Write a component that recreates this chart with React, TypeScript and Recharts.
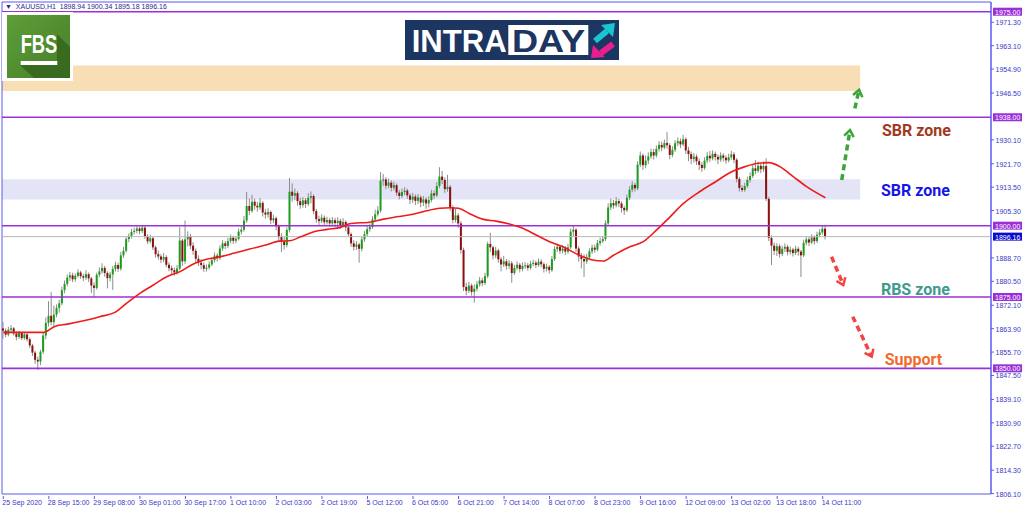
import React from 'react';
import {
  ComposedChart, Bar, Line, XAxis, YAxis, ReferenceLine, ReferenceArea, ReferenceDot,
} from 'recharts';

// XAUUSD H1, 25 Sep 2020 -> 14 Oct 2020 (one value per hourly bar)
const firstOpen = 1864.0;
const closes = [
  1863.2, 1861.8, 1863.5, 1864.0, 1862.2, 1861.0, 1862.4, 1860.6, 1861.9, 1860.2,
  1858.0, 1855.5, 1853.0, 1852.4, 1855.8, 1861.5, 1865.9, 1868.4, 1866.2, 1868.8,
  1871.2, 1872.8, 1877.4, 1879.6, 1881.8, 1882.6, 1881.2, 1882.4, 1883.6, 1882.3,
  1881.8, 1883.0, 1881.5, 1879.0, 1878.2, 1882.8, 1884.0, 1885.2, 1883.4, 1881.6,
  1882.9, 1884.8, 1886.2, 1884.9, 1889.6, 1891.2, 1895.3, 1896.4, 1897.8, 1898.2,
  1899.0, 1898.1, 1899.3, 1896.2, 1894.5, 1895.6, 1892.4, 1890.0, 1889.2, 1888.1,
  1889.0, 1886.3, 1885.1, 1884.4, 1883.6, 1885.0, 1894.8, 1887.5, 1895.2, 1896.3,
  1893.0, 1891.2, 1888.4, 1887.0, 1886.2, 1884.9, 1885.3, 1886.4, 1887.9, 1889.5,
  1888.6, 1892.0, 1893.8, 1892.9, 1894.6, 1895.8, 1894.7, 1895.4, 1897.9, 1898.6,
  1901.8, 1906.9, 1905.2, 1908.4, 1907.0, 1906.4, 1908.0, 1904.6, 1903.9, 1904.8,
  1901.9, 1902.6, 1899.8, 1896.0, 1894.4, 1893.2, 1898.5, 1911.9, 1910.5, 1911.4,
  1908.6, 1907.2, 1908.9, 1907.6, 1909.8, 1910.4, 1905.1, 1902.3, 1901.6, 1902.8,
  1901.2, 1902.0, 1900.8, 1901.9, 1900.9, 1901.7, 1900.2, 1901.3, 1899.4, 1897.0,
  1893.8, 1892.6, 1893.4, 1891.9, 1895.2, 1897.0, 1898.8, 1899.5, 1902.2, 1904.0,
  1905.3, 1915.8, 1916.2, 1914.0, 1915.1, 1913.3, 1914.2, 1911.6, 1910.4, 1911.8,
  1912.3, 1910.6, 1909.1, 1910.2, 1908.7, 1909.9, 1908.1, 1909.2, 1907.8, 1909.0,
  1911.3, 1910.6, 1913.9, 1917.2, 1916.0, 1912.8, 1913.6, 1906.4, 1902.0, 1903.6,
  1900.8, 1891.5, 1878.5, 1877.2, 1879.0, 1876.8, 1877.9, 1879.4, 1880.8, 1879.9,
  1882.3, 1893.6, 1892.4, 1889.6, 1891.3, 1888.2, 1886.4, 1887.5, 1885.9, 1886.8,
  1883.4, 1885.2, 1886.3, 1884.8, 1885.9, 1886.1, 1885.2, 1886.6, 1887.0, 1886.2,
  1887.4, 1886.5, 1884.9, 1885.6, 1884.4, 1888.3, 1891.8, 1892.6, 1891.2, 1892.0,
  1890.9, 1892.4, 1897.9, 1898.6, 1892.0, 1889.2, 1888.3, 1887.5, 1888.9, 1891.0,
  1892.3, 1891.6, 1893.9, 1894.6, 1895.3, 1900.8, 1906.4, 1907.9, 1907.1, 1908.6,
  1907.8, 1906.2, 1905.4, 1909.8, 1912.6, 1914.3, 1913.1, 1921.4, 1924.6, 1921.2,
  1922.8, 1924.3, 1925.8, 1924.6, 1926.9, 1928.3, 1927.4, 1929.0, 1928.2, 1924.8,
  1926.6, 1928.9, 1929.6, 1928.5, 1930.3, 1926.4, 1925.1, 1923.4, 1924.2, 1922.6,
  1921.3, 1920.2, 1922.8, 1924.5, 1923.6, 1925.2, 1924.1, 1923.2, 1924.6, 1923.8,
  1922.9, 1924.0, 1925.0, 1923.1, 1916.4, 1913.2, 1912.5, 1913.9, 1916.0, 1917.4,
  1920.1, 1919.2, 1921.0, 1919.8, 1920.9, 1909.4, 1895.7, 1893.0, 1891.2, 1892.8,
  1890.1, 1891.9, 1892.6, 1890.8, 1891.6, 1890.4, 1891.9, 1890.9, 1889.6, 1894.0,
  1895.2, 1894.1, 1895.9, 1894.6, 1896.8, 1897.6, 1898.94, 1896.16,
];
const highs = [
  1866.3, 1864.0, 1864.6, 1865.2, 1864.5, 1862.9, 1863.1, 1862.8, 1862.7, 1862.3,
  1860.8, 1858.6, 1856.2, 1854.1, 1856.5, 1862.4, 1867.8, 1873.5, 1876.7, 1872.0,
  1872.4, 1874.0, 1878.6, 1880.8, 1882.9, 1883.8, 1883.5, 1883.3, 1884.7, 1884.2,
  1883.1, 1884.4, 1883.6, 1882.0, 1880.1, 1883.5, 1885.4, 1886.8, 1885.9, 1884.0,
  1883.8, 1885.9, 1887.4, 1887.0, 1890.8, 1892.5, 1896.0, 1897.3, 1898.9, 1899.3,
  1899.8, 1899.6, 1900.1, 1899.8, 1897.0, 1896.8, 1896.1, 1893.0, 1891.3, 1890.0,
  1890.4, 1889.6, 1887.2, 1886.0, 1885.3, 1886.2, 1899.5, 1895.4, 1901.8, 1898.0,
  1897.1, 1894.2, 1892.0, 1889.6, 1888.3, 1887.1, 1886.4, 1887.5, 1889.0, 1890.6,
  1890.3, 1893.1, 1894.9, 1894.6, 1895.7, 1896.9, 1896.5, 1896.3, 1899.0, 1900.2,
  1903.4, 1911.8, 1909.6, 1910.8, 1909.5, 1908.3, 1909.7, 1908.6, 1905.8, 1906.1,
  1905.3, 1903.8, 1903.2, 1900.4, 1897.3, 1896.0, 1899.4, 1916.7, 1914.8, 1913.0,
  1912.1, 1909.8, 1910.0, 1909.7, 1911.4, 1912.0, 1911.0, 1905.9, 1903.5, 1904.0,
  1903.6, 1903.1, 1902.7, 1903.0, 1902.8, 1902.9, 1902.4, 1902.6, 1901.9, 1900.1,
  1897.6, 1894.9, 1894.6, 1894.0, 1896.1, 1898.1, 1899.9, 1900.8, 1903.3, 1905.6,
  1906.9, 1918.8, 1918.1, 1917.0, 1916.5, 1915.9, 1915.4, 1914.8, 1912.5, 1913.0,
  1913.5, 1913.0, 1911.4, 1911.5, 1911.0, 1911.1, 1910.6, 1910.4, 1910.0, 1910.3,
  1912.6, 1912.4, 1915.3, 1920.5, 1919.2, 1916.9, 1917.8, 1914.2, 1907.1, 1905.9,
  1904.4, 1901.6, 1892.3, 1880.0, 1880.3, 1879.7, 1879.4, 1880.6, 1882.0, 1881.7,
  1883.5, 1894.4, 1897.5, 1893.0, 1892.6, 1891.9, 1889.0, 1889.4, 1888.3, 1888.0,
  1887.6, 1886.3, 1887.5, 1887.0, 1887.1, 1887.2, 1886.9, 1887.7, 1888.1, 1887.8,
  1888.5, 1888.2, 1887.1, 1886.7, 1886.2, 1889.4, 1892.9, 1893.7, 1893.3, 1893.2,
  1892.8, 1893.6, 1899.0, 1900.2, 1899.1, 1892.8, 1890.4, 1889.9, 1890.1, 1892.1,
  1893.4, 1893.3, 1895.0, 1895.8, 1896.4, 1901.9, 1907.8, 1909.5, 1909.0, 1910.1,
  1909.4, 1908.5, 1907.0, 1910.9, 1913.8, 1915.6, 1915.0, 1922.6, 1926.0, 1925.3,
  1924.6, 1925.7, 1927.0, 1926.9, 1928.1, 1929.6, 1929.5, 1930.2, 1932.8, 1928.9,
  1927.8, 1930.0, 1930.9, 1930.6, 1931.8, 1930.9, 1927.6, 1926.0, 1925.5, 1925.0,
  1923.6, 1922.2, 1924.0, 1925.8, 1926.2, 1926.4, 1926.0, 1925.0, 1925.7, 1925.4,
  1924.6, 1925.2, 1926.2, 1925.8, 1923.7, 1917.1, 1914.2, 1915.0, 1917.2, 1918.7,
  1921.4, 1923.0, 1922.4, 1921.9, 1922.5, 1923.6, 1910.1, 1896.6, 1894.1, 1893.9,
  1893.5, 1893.0, 1893.8, 1893.3, 1892.7, 1892.2, 1893.0, 1892.6, 1891.5, 1895.1,
  1896.3, 1896.0, 1897.0, 1896.6, 1897.9, 1898.8, 1900.1, 1900.34,
];
const lows = [
  1860.4, 1860.9, 1861.2, 1862.6, 1861.5, 1859.8, 1860.3, 1859.9, 1860.0, 1859.4,
  1857.1, 1854.3, 1851.6, 1849.4, 1851.1, 1855.0, 1860.2, 1864.7, 1865.1, 1864.6,
  1867.9, 1869.5, 1872.1, 1876.3, 1878.7, 1880.6, 1880.2, 1880.4, 1881.8, 1881.4,
  1880.6, 1881.0, 1880.3, 1876.4, 1875.0, 1877.6, 1881.9, 1883.2, 1882.1, 1878.0,
  1880.5, 1877.5, 1883.9, 1883.8, 1884.2, 1888.7, 1890.6, 1894.2, 1895.5, 1896.9,
  1897.3, 1897.0, 1897.4, 1895.4, 1893.6, 1893.8, 1891.5, 1888.8, 1888.1, 1886.9,
  1887.2, 1885.4, 1884.0, 1883.1, 1882.5, 1882.9, 1884.3, 1885.9, 1886.6, 1892.7,
  1891.8, 1889.8, 1887.1, 1885.9, 1884.7, 1883.8, 1883.9, 1884.6, 1885.8, 1887.1,
  1887.4, 1888.0, 1891.2, 1891.8, 1892.1, 1893.8, 1893.6, 1893.9, 1894.8, 1896.9,
  1897.9, 1901.0, 1903.8, 1904.5, 1905.6, 1904.9, 1905.5, 1903.2, 1902.5, 1902.8,
  1900.6, 1900.9, 1898.4, 1894.7, 1890.8, 1891.6, 1892.4, 1897.6, 1908.4, 1908.9,
  1907.0, 1905.9, 1906.3, 1906.2, 1906.9, 1907.8, 1904.0, 1901.0, 1900.2, 1900.9,
  1899.9, 1900.4, 1899.5, 1899.8, 1899.6, 1899.3, 1898.9, 1899.4, 1898.0, 1896.2,
  1892.6, 1891.3, 1891.5, 1887.0, 1891.0, 1894.3, 1896.2, 1897.9, 1898.9, 1901.4,
  1903.2, 1904.6, 1914.0, 1912.8, 1913.1, 1912.0, 1912.4, 1910.5, 1909.2, 1909.6,
  1910.7, 1909.4, 1907.6, 1908.0, 1907.2, 1907.6, 1906.5, 1906.9, 1905.9, 1906.4,
  1908.2, 1909.3, 1910.0, 1913.1, 1914.6, 1911.5, 1911.9, 1905.2, 1900.8, 1901.1,
  1899.2, 1890.2, 1877.1, 1875.6, 1876.4, 1875.5, 1873.0, 1877.0, 1878.6, 1878.8,
  1879.2, 1881.6, 1890.8, 1888.2, 1888.6, 1887.0, 1884.0, 1885.5, 1884.6, 1884.9,
  1880.0, 1882.8, 1884.4, 1883.6, 1884.0, 1884.9, 1884.2, 1884.6, 1885.8, 1885.1,
  1885.6, 1885.4, 1883.6, 1883.9, 1883.2, 1883.8, 1887.6, 1890.8, 1890.1, 1890.3,
  1889.7, 1890.2, 1891.8, 1896.4, 1890.8, 1887.4, 1885.0, 1882.0, 1886.6, 1888.2,
  1890.1, 1890.5, 1891.0, 1893.0, 1893.9, 1894.6, 1900.1, 1905.5, 1905.9, 1906.4,
  1906.5, 1904.6, 1903.8, 1904.8, 1909.0, 1911.7, 1911.9, 1912.4, 1920.5, 1919.6,
  1920.1, 1921.6, 1923.4, 1923.2, 1923.9, 1926.0, 1926.1, 1926.8, 1927.0, 1923.3,
  1924.0, 1925.8, 1927.9, 1927.2, 1927.9, 1925.2, 1922.6, 1921.5, 1922.1, 1921.3,
  1919.5, 1918.9, 1919.6, 1921.9, 1922.3, 1922.9, 1922.8, 1921.6, 1922.4, 1922.5,
  1921.7, 1922.2, 1923.1, 1921.9, 1915.2, 1912.0, 1911.8, 1911.9, 1913.2, 1915.1,
  1916.7, 1918.0, 1918.5, 1918.4, 1918.9, 1908.6, 1894.6, 1886.2, 1889.7, 1889.4,
  1888.8, 1889.3, 1890.8, 1889.6, 1889.9, 1889.2, 1889.7, 1889.5, 1882.0, 1889.0,
  1893.1, 1892.9, 1893.5, 1893.4, 1893.9, 1895.9, 1896.8, 1895.18,
];

// moving average (bar index -> value)
const maIndex = [
  0, 15, 19, 24, 30, 36, 42, 46, 51, 56, 61, 66, 71, 75, 80, 86, 92, 98, 103, 107,
  111, 116, 121, 126, 129, 138, 142, 147, 153, 158, 163, 167, 170, 174, 179, 184, 189, 194, 199, 204,
  209, 215, 220, 224, 228, 234, 239, 244, 249, 254, 260, 266, 272, 277, 282, 286, 290, 295, 300, 307,
];
const maValue = [
  1862.6, 1862.6, 1864.6, 1865.5, 1866.7, 1868.1, 1869.8, 1872.8, 1876.3, 1879.2, 1882.1, 1883.9, 1886.6, 1888.0, 1888.9, 1890.3, 1891.8, 1893.2, 1894.6, 1894.7,
  1896.1, 1897.9, 1898.7, 1899.4, 1900.6, 1901.4, 1902.3, 1903.1, 1904.0, 1905.2, 1906.1, 1906.3, 1906.1, 1904.3, 1902.3, 1901.6, 1900.6, 1899.1, 1896.7, 1894.4,
  1892.6, 1889.7, 1888.0, 1887.6, 1889.7, 1892.6, 1894.4, 1898.5, 1903.1, 1907.8, 1911.9, 1915.4, 1918.9, 1920.7, 1921.9, 1922.1, 1920.7, 1917.2, 1913.7, 1909.8,
];

const timeTicks = [0, 17, 34, 51, 68, 85, 102, 119, 136, 153, 170, 187, 204, 221, 238, 255, 272, 289, 306];
const timeLabels = [
  '25 Sep 2020', '28 Sep 15:00', '29 Sep 08:00', '30 Sep 01:00', '30 Sep 17:00', '1 Oct 10:00',
  '2 Oct 03:00', '2 Oct 19:00', '5 Oct 12:00', '6 Oct 05:00', '6 Oct 21:00', '7 Oct 14:00',
  '8 Oct 07:00', '8 Oct 23:00', '9 Oct 16:00', '12 Oct 09:00', '13 Oct 02:00', '13 Oct 18:00', '14 Oct 11:00',
];

const priceTicks = [
  1971.3, 1963.1, 1954.9, 1946.5, 1930.1, 1921.7, 1913.5, 1905.3, 1888.7, 1880.5,
  1872.1, 1863.9, 1855.7, 1847.5, 1839.1, 1830.9, 1822.7, 1814.3, 1806.1,
];
const levels = [1975, 1938, 1900, 1875, 1850];
const bidPrice = 1896.16;

// shaded zones (price bands) and where they stop
const zoneLow = [1947.2, 1909.2];
const zoneHigh = [1956.1, 1916.3];
const zoneEnd = 320;

// dashed arrows: from (bar, price) to (bar, price)
const arrowFromX = [313.1, 318.0, 309.3, 317.2];
const arrowFromY = [1916.0, 1941.1, 1889.1, 1868.1];
const arrowToX = [316.2, 319.6, 313.7, 324.3];
const arrowToY = [1933.5, 1947.6, 1879.2, 1854.1];
const arrowUp = [true, true, false, false];

const noteText = ['SBR zone', 'SBR zone', 'RBS zone', 'Support'];
const noteX = [341.0, 340.6, 340.6, 339.9];
const noteY = [1933.2, 1912.3, 1877.7, 1853.2];
const noteColors = ['#a3391c', '#1515e8', '#3d9a8d', '#f26b2b'];

const X_MIN = -0.49;
const X_MAX = 368.85;
const Y_MIN = 1805.95;
const Y_MAX = 1978.4;

const rows = closes.map((close, i) => {
  const open = i === 0 ? firstOpen : closes[i - 1];
  const k = maIndex.indexOf(i);
  return {
    i,
    open,
    high: highs[i],
    low: lows[i],
    close,
    range: [lows[i], highs[i]],
    ma: k >= 0 ? maValue[k] : null,
  };
});

const AXIS_BLUE = '#5a5aee';
const LABEL_BLUE = '#3838c8';
const MT_FONT = '"Liberation Sans", Arial, sans-serif';

const Candle = (props: any) => {
  const { x, y, width, height, payload } = props;
  if (!payload) return null;
  const top = Math.min(y, y + height);
  const h = Math.abs(height);
  const span = payload.high - payload.low;
  const ppu = span > 0 ? h / span : 0;
  const cx = x + width / 2;
  const yO = top + (payload.high - payload.open) * ppu;
  const yC = top + (payload.high - payload.close) * ppu;
  const bull = payload.close >= payload.open;
  const bodyTop = Math.min(yO, yC);
  const bodyH = Math.max(Math.abs(yC - yO), 1);
  return (
    <g>
      <line x1={cx} x2={cx} y1={top} y2={top + h} stroke="#8c8c8c" strokeWidth={1} />
      <rect x={cx - 1} y={bodyTop} width={2} height={bodyH} fill={bull ? '#1c9c1c' : '#8a0f0f'} />
    </g>
  );
};

const PriceTick = (props: any) => {
  const { x, y, payload } = props;
  const v = payload.value;
  const text = Number(v).toFixed(2);
  const boxed = levels.includes(v) || v === bidPrice;
  if (boxed) {
    return (
      <g>
        <rect x={x + 2} y={y - 4} width={29} height={8} fill={v === bidPrice ? '#0b0bcf' : '#9b30d9'} />
        <text x={x + 4} y={y + 0.5} dominantBaseline="central" fontSize={7} fill="#ffffff" fontFamily={MT_FONT}>
          {text}
        </text>
      </g>
    );
  }
  return (
    <g>
      <line x1={x} x2={x + 3} y1={y} y2={y} stroke={AXIS_BLUE} />
      <text x={x + 4.5} y={y + 0.5} dominantBaseline="central" fontSize={7} fill={LABEL_BLUE} fontFamily={MT_FONT}>
        {text}
      </text>
    </g>
  );
};

const TimeTick = (props: any) => {
  const { x, y, payload } = props;
  const label = timeLabels[timeTicks.indexOf(payload.value)];
  return (
    <g>
      <line x1={x} x2={x} y1={y + 2} y2={y + 5} stroke={AXIS_BLUE} />
      <text x={x - 1} y={y + 8.5} dominantBaseline="central" fontSize={7} fill={LABEL_BLUE} fontFamily={MT_FONT}>
        {label}
      </text>
    </g>
  );
};

const arrowShape = (color: string) => (p: any) => {
  const { x1, y1, x2, y2 } = p;
  if ([x1, y1, x2, y2].some((n) => typeof n !== 'number' || isNaN(n))) return null;
  const ang = Math.atan2(y2 - y1, x2 - x1);
  const L = 8;
  const s = 0.65;
  const ax = x2 - L * Math.cos(ang - s);
  const ay = y2 - L * Math.sin(ang - s);
  const bx = x2 - L * Math.cos(ang + s);
  const by = y2 - L * Math.sin(ang + s);
  return (
    <g>
      <line
        x1={x1} y1={y1} x2={x2 - 2 * Math.cos(ang)} y2={y2 - 2 * Math.sin(ang)}
        stroke={color} strokeWidth={3.5} strokeDasharray="6 4"
      />
      <polyline points={`${ax},${ay} ${x2},${y2} ${bx},${by}`} fill="none" stroke={color} strokeWidth={2.5} />
    </g>
  );
};

const FbsLogo = () => (
  <svg width={71} height={69} style={{ position: 'absolute', left: 2, top: 12 }}>
    <rect x={0} y={0} width={71} height={69} fill="#ffffff" />
    <defs>
      <linearGradient id="fbsg" x1="0" y1="0" x2="1" y2="1">
        <stop offset="0" stopColor="#5f9e3a" />
        <stop offset="1" stopColor="#457f27" />
      </linearGradient>
    </defs>
    <rect x={5} y={3} width={63} height={63} fill="url(#fbsg)" />
    <polygon points="55,22 68,35 68,66 32,66 18,53 55,53" fill="#386a1f" />
    <text
      x={18.7} y={41.3} fill="#ffffff" fontSize={25} fontWeight={700}
      fontFamily={MT_FONT} textLength={36.6} lengthAdjust="spacingAndGlyphs"
    >
      FBS
    </text>
    <rect x={18.7} y={49} width={36.6} height={4} fill="#ffffff" />
  </svg>
);

const IntradayLogo = () => (
  <svg width={214} height={40} style={{ position: 'absolute', left: 405, top: 20 }}>
    <rect x={0} y={0} width={214} height={40} fill="#1c3561" />
    <text
      x={6.7} y={31.7} fill="#ffffff" fontSize={32} fontWeight={700}
      fontFamily={MT_FONT} textLength={95} lengthAdjust="spacingAndGlyphs"
    >
      INTRA
    </text>
    <rect x={103.3} y={5} width={80} height={30} fill="#ffffff" />
    <text
      x={107} y={31.7} fill="#1c3561" fontSize={32} fontWeight={700}
      fontFamily={MT_FONT} textLength={73} lengthAdjust="spacingAndGlyphs"
    >
      DAY
    </text>
    <line x1={190} y1={21} x2={202} y2={11} stroke="#19c6cf" strokeWidth={6} />
    <polygon points="210,3 196,5 208,17" fill="#19c6cf" />
    <line x1={208} y1={24} x2={196} y2={33} stroke="#ea1f8d" strokeWidth={6} />
    <polygon points="186,38 188,25 200,37" fill="#ea1f8d" />
  </svg>
);

export default function App() {
  const last = rows[rows.length - 1];
  const header = `${last.open.toFixed(2)} ${last.high.toFixed(2)} ${last.low.toFixed(2)} ${last.close.toFixed(2)}`;
  return (
    <div
      style={{
        position: 'absolute', left: 0, top: 0, width: 1024, height: 511,
        background: '#ffffff', overflow: 'hidden',
      }}
    >
      <ComposedChart width={1024} height={511} data={rows} margin={{ top: 2, right: 0, bottom: 0, left: 2 }}>
        <XAxis
          type="number" dataKey="i" domain={[X_MIN, X_MAX]} allowDataOverflow
          ticks={timeTicks} interval={0} tick={<TimeTick />}
          axisLine={false} tickLine={false} tickSize={0} tickMargin={0} height={17}
        />
        <YAxis
          orientation="right" type="number" domain={[Y_MIN, Y_MAX]} allowDataOverflow
          ticks={[...priceTicks, ...levels, bidPrice]} interval={0} tick={<PriceTick />}
          axisLine={{ stroke: AXIS_BLUE }} tickLine={false} tickSize={0} tickMargin={0} width={33}
        />
        {zoneLow.map((lo, k) => (
          <ReferenceArea
            key={`zone-${k}`} x1={X_MIN} x2={zoneEnd} y1={lo} y2={zoneHigh[k]}
            fill={k === 0 ? '#f7deb5' : '#e4e4f7'} fillOpacity={1} stroke="none"
          />
        ))}
        <ReferenceArea x1={X_MIN} x2={X_MAX} y1={Y_MIN} y2={Y_MAX} fill="none" stroke={AXIS_BLUE} strokeWidth={1} />
        <ReferenceLine y={bidPrice} stroke="#b9b9b9" strokeWidth={1} />
        {levels.map((lv) => (
          <ReferenceLine key={`lv-${lv}`} y={lv} stroke="#9b30d9" strokeWidth={1.6} />
        ))}
        <Bar dataKey="range" barSize={2} shape={<Candle />} isAnimationActive={false} />
        <Line
          dataKey="ma" type="monotone" stroke="#ee1b1b" strokeWidth={1.6} dot={false}
          activeDot={false} connectNulls isAnimationActive={false}
        />
        {arrowFromX.map((fx, k) => (
          <ReferenceLine
            key={`arrow-${k}`}
            segment={[{ x: fx, y: arrowFromY[k] }, { x: arrowToX[k], y: arrowToY[k] }]}
            shape={arrowShape(arrowUp[k] ? '#3aa53a' : '#f24444')}
          />
        ))}
        {noteText.map((t, k) => (
          <ReferenceDot
            key={`note-${k}`} x={noteX[k]} y={noteY[k]} r={0}
            shape={(p: any) => (
              <text
                x={p.cx} y={p.cy} textAnchor="middle" dominantBaseline="central"
                fontSize={16} fontWeight={700} fontFamily="Roboto, sans-serif" fill={noteColors[k]}
              >
                {t}
              </text>
            )}
          />
        ))}
      </ComposedChart>
      <div
        style={{
          position: 'absolute', left: 5, top: 2, fontSize: 7, lineHeight: '9px',
          fontFamily: MT_FONT, color: '#28288f', whiteSpace: 'pre',
        }}
      >
        {'\u25BC  XAUUSD,H1  ' + header}
      </div>
      <FbsLogo />
      <IntradayLogo />
    </div>
  );
}
